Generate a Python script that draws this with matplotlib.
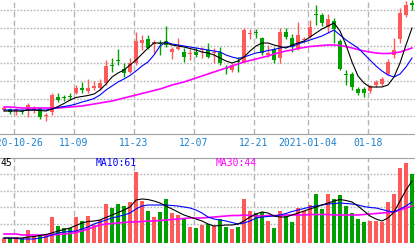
"""K-line chart with MA5/MA10/MA30 and volume panel."""
import matplotlib
matplotlib.use("Agg")
import matplotlib.pyplot as plt
import numpy as np

# price (arbitrary units), one value per trading day
open_ = [24, 25, 23, 23, 23, 24, 26, 18, 22, 37, 37, 38, 41, 46, 43, 46, 46, 51, 69, 74,
         65, 62, 71, 91, 95, 90, 91, 93, 82, 85, 82, 80, 82, 84, 84, 81, 82, 66, 64, 73,
         72, 100, 102, 96, 79, 85, 76, 102, 96, 86, 94, 97, 120, 119, 107, 113, 93, 60, 60, 45,
         45, 43, 49, 50, 60, 79, 95, 119, 131]
close = [26, 22, 25, 22, 29, 26, 17, 19, 39, 34, 36, 37, 46, 44, 46, 48, 51, 68, 68, 73,
         61, 71, 93, 94, 86, 92, 90, 89, 85, 87, 77, 81, 79, 85, 77, 82, 71, 65, 69, 72,
         104, 101, 101, 81, 81, 74, 102, 97, 87, 99, 95.5, 107, 119, 111, 115, 105, 65, 59, 47, 41,
         41, 48, 52, 55, 72, 84, 121, 129, 129]
high = [27, 26, 26, 24, 31, 28, 27, 21, 41, 41, 39, 41, 49, 52, 55, 53, 55, 74, 76, 85,
        71, 76, 102, 99, 99, 94, 94, 108, 87, 96, 86, 85, 87, 87, 91, 86, 87, 69, 71, 77,
        106, 105, 105, 97, 89, 87, 106, 106, 100, 112, 97, 114, 129, 121, 120, 116, 95, 64, 62, 47,
        47, 49, 54, 57, 75, 96, 126, 133, 134]
low = [23, 20, 19, 20, 17, 21, 15, 13, 19, 32, 33, 34, 40, 41, 41, 44, 44, 49, 62, 69,
       57, 61, 69, 84, 85, 81, 79, 87, 75, 84, 72, 74, 77, 76, 76, 71, 69, 60, 62, 62,
       71, 95, 96, 79, 77, 71, 71, 95, 82, 84, 91, 96, 109, 108, 101, 91, 64, 49, 44, 39,
       37, 41, 47, 48, 59, 76, 91, 117, 124]

ma5 = [23, 23, 23, 23, 24, 24, 23.5, 23, 25, 27.5, 30.5, 34, 36.5, 37.5, 38.5, 40, 44, 50, 57, 61,
       64, 69, 74, 80, 86, 91, 91, 91, 89, 88, 87, 85.5, 84, 82, 81, 79, 76, 73, 71, 73,
       77, 83, 88, 91, 91, 89, 87.5, 86, 89, 91, 93, 97, 101, 105, 108, 111, 103, 89, 72, 58,
       51, 47, 47, 47, 49, 57, 71, 89, 106]
ma10 = [24, 24, 24, 24, 24, 24, 24, 24, 25, 26.5, 27.5, 28.5, 30, 32, 33.5, 35.5, 39, 44, 48, 52,
        55, 58.5, 63, 68, 72, 79, 88, 92, 90, 89, 88, 87, 86, 85, 84, 83, 82, 79, 77, 75.5,
        77, 79, 81, 82, 83.5, 84.5, 86, 87, 87.5, 90, 92, 94, 96, 98, 101, 104, 99, 94, 90, 86,
        80, 74, 68, 63, 59, 57, 60, 67, 76]
ma30 = [27, 27, 26.5, 26, 26, 26, 26, 26, 26, 26, 26.5, 27, 27.5, 28, 29, 30, 31, 32, 33, 34.5,
        36, 37.5, 39, 40.5, 42, 43.5, 45, 47, 49, 50.5, 52, 54, 56, 58, 60, 62, 64, 66, 68, 70,
        72, 73.5, 75, 76.5, 78, 80, 81.5, 83, 84, 85.5, 86.5, 87.5, 88, 88.5, 89, 89, 88.5, 87.5, 86, 84.5,
        83, 82, 81, 80.5, 80.5, 81, 82, 84, 86]

volume = [5.5, 5, 6, 5, 13, 7.5, 7.5, 8, 26, 17, 15.5, 15, 26, 22, 27, 18, 23, 39, 35, 39,
          37, 41, 71, 42, 32, 26, 31, 44, 30, 28, 25, 16, 15, 18, 19, 17, 24, 16, 14, 16,
          44, 32, 30, 31, 22, 15, 32, 27, 21, 35, 32, 38, 49, 34, 49, 44, 48, 37, 30, 24,
          21, 22, 22, 21, 41, 49, 75, 80, 69]
vma5 = [5, 5, 5, 5, 6, 6.5, 7.5, 8.5, 10, 12, 13.5, 15, 17.5, 20, 21.5, 22, 23, 25.5, 28, 30.5,
        33, 36, 43, 44, 43.5, 42, 40, 37, 34, 31, 28, 26, 24, 22, 19, 17, 17.5, 18, 18, 19,
        22, 26, 29, 31, 30, 27, 26, 26, 28, 30, 32, 34, 36, 38, 40, 42, 43.5, 42.5, 41, 37,
        32, 27, 24, 22, 25, 31, 42, 53, 62]
vma10 = [5, 5, 4.5, 4, 4, 4, 5, 6, 8, 10, 11, 11.5, 12, 14, 16, 19, 21, 23, 25, 26.5,
         28, 30, 34, 37, 38, 38, 38, 38, 37.5, 37, 36, 35, 33, 30, 26, 24, 23, 22, 20.5, 19,
         20, 22, 25, 26, 26.5, 27, 28, 29.5, 31.5, 33, 34.5, 36, 37, 38, 39, 39.5, 40, 39.5, 39, 38,
         36.5, 35.5, 35, 33.5, 32, 31, 34, 37, 41]
vma30 = [9, 9, 9, 8, 8, 8, 8, 8, 8, 8.5, 9, 9.5, 10.5, 12, 14, 16, 18, 19, 19.5, 20,
         20.5, 21, 21, 21.5, 22, 22, 22.5, 23, 23.5, 24, 24.5, 25, 25, 25, 25.5, 26, 26.5, 27, 27.5, 27.5,
         28, 27.5, 27, 27, 27.5, 27.5, 27.5, 28, 28, 28, 28, 28.5, 28.5, 28.5, 28.5, 28, 28, 28, 28, 28,
         28.5, 29, 29.5, 30, 30.5, 31, 33, 35, 37]

date_idx = [2, 12, 22, 32, 42, 51, 61]
date_labels = ["2020-10-26", "11-09", "11-23", "12-07", "12-21", "2021-01-04", "01-18"]

RED, GREEN = "#ff5a5a", "#00a000"
GRID = "#b4b4b4"
MONO = "DejaVu Sans Mono"

x = np.arange(len(close))
o, c = np.array(open_), np.array(close)
up = c >= o
cols = np.where(up, RED, GREEN)

fig = plt.figure(figsize=(4.15, 2.43), dpi=100)
fig.patch.set_facecolor("white")
ax = fig.add_axes([0, 1 - 134 / 243, 1, 134 / 243])
ax2 = fig.add_axes([0, 0, 1, 85 / 243])

for a in (ax, ax2):
    a.set_xlim(-0.667, 68.5)
    a.set_xticks([]); a.set_yticks([])
    for s in a.spines.values():
        s.set_visible(False)
    for d in date_idx:
        a.axvline(d - 0.33, color=GRID, lw=1, ls=(0, (4, 2.5)), zorder=0)
ax.spines["bottom"].set_visible(True); ax.spines["bottom"].set_color("#a0a0a0")
ax2.spines["top"].set_visible(True); ax2.spines["top"].set_color("#a0a0a0")

# price panel
ax.set_ylim(0, 134)
for k in range(1, 8):
    ax.axhline(17.67 * k, color=GRID, lw=1, ls=(0, (1.2, 1.2)), zorder=0)
ax.vlines(x, low, high, colors=cols, lw=1, zorder=2)
body = np.maximum(np.abs(c - o), 1.2)
ax.bar(x, body, bottom=np.minimum(o, c), width=0.82, color=cols, lw=0, zorder=3)
ax.plot(x, ma30, color="#ff00ff", lw=1.2, zorder=4)
ax.plot(x, ma10, color="#0000ff", lw=0.8, zorder=5)
ax.plot(x, ma5, color="black", lw=0.8, zorder=6)

for d, lab in zip(date_idx, date_labels):
    ax.text(d - 0.33, -9 / 134, lab, transform=ax.get_xaxis_transform(), ha="center",
            va="center", fontsize=7, family=MONO, color="#1a80d0", clip_on=False)

# volume panel
ax2.set_ylim(0, 85)
for k in range(4):
    ax2.axhline(19 + 16.67 * k, color=GRID, lw=1, ls=(0, (1.2, 1.2)), zorder=0)
ax2.bar(x, volume, width=0.82, color=cols, lw=0, zorder=2)
ax2.plot(x, vma30, color="#ff00ff", lw=1.2, zorder=3)
ax2.plot(x, vma10, color="#0000ff", lw=0.8, zorder=4)
ax2.plot(x, vma5, color="black", lw=0.8, zorder=5)

fig.text(0.5 / 415, 1 - 163 / 243, "45", fontsize=7, family=MONO, color="black", va="center")
fig.text(96 / 415, 1 - 163 / 243, "MA10:61", fontsize=7, family=MONO, color="#0000ff", va="center")
fig.text(216 / 415, 1 - 163 / 243, "MA30:44", fontsize=7, family=MONO, color="#ff00ff", va="center")

fig.savefig("out.png", dpi=100, facecolor="white")
